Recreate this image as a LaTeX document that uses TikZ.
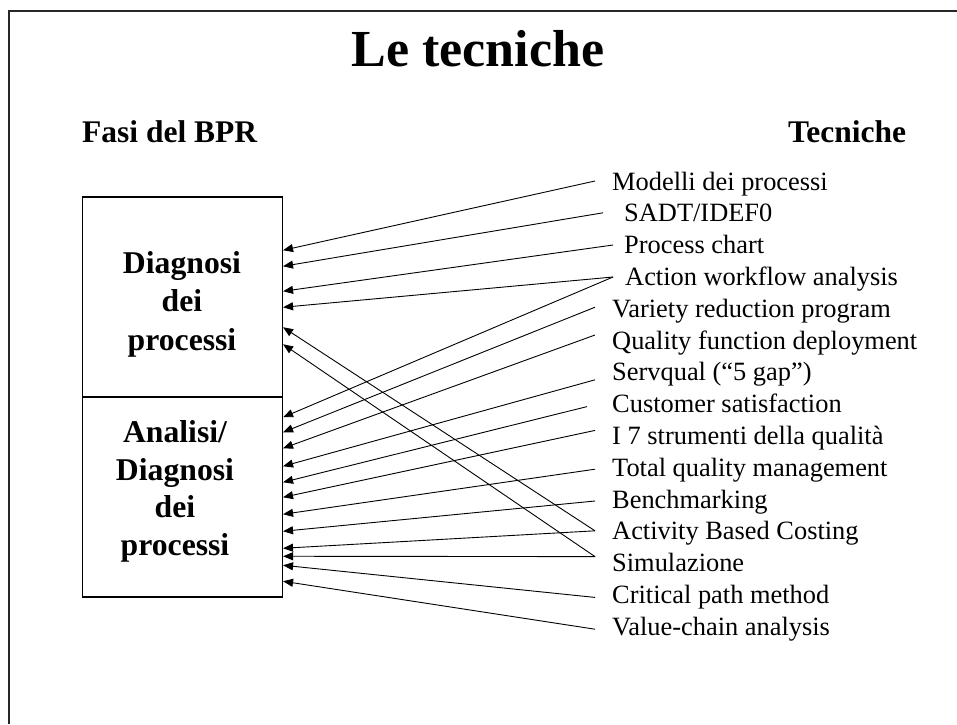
\documentclass[tikz,border=0pt]{standalone}
\usepackage{fontspec}
\setmainfont{Liberation Serif}
\usetikzlibrary{arrows.meta,calc}
\begin{document}
\begin{tikzpicture}[x=1pt,y=-1pt,
  lbl/.style={anchor=base west, inner sep=0pt, font=\fontsize{26.4}{30}\selectfont},
  boxtxt/.style={anchor=base, inner sep=0pt, font=\fontsize{31.7}{36}\selectfont\bfseries},
  hdr/.style={anchor=base west, inner sep=0pt, font=\fontsize{31.5}{36}\selectfont\bfseries},
  phase/.style={draw, line width=1.5pt, minimum width=200pt, minimum height=200pt, inner sep=0pt},
  arr/.style={-{Triangle[length=10pt,width=8pt]}, line width=0.9pt},
  frameline/.style={line width=2pt, draw=black!85}]
\useasboundingbox (0,0) rectangle (957,724);
% outer frame (only left and top visible)
\draw[frameline] (8.5,724) -- (8.5,11) -- (957,11);
% title and headers
\node[anchor=base, inner sep=0pt, font=\fontsize{52}{60}\selectfont\bfseries] (title) at (478,66) {Le tecniche};
\node[hdr] (hfasi) at (82,142) {Fasi del BPR};
\node[hdr] (htec) at (788,142) {Tecniche};
% phase boxes
\node[phase] (diag) at (182.3,297) {};
\node[phase] (anal) at (182.3,497) {};
\node[boxtxt] (d1) at (182,273) {Diagnosi};
\node[boxtxt] (d2) at (182,311.5) {dei};
\node[boxtxt] (d3) at (182,350) {processi};
\node[boxtxt] (a1) at (175,442) {Analisi/};
\node[boxtxt] (a2) at (175,480) {Diagnosi};
\node[boxtxt] (a3) at (175,517.5) {dei};
\node[boxtxt] (a4) at (175,555) {processi};
% technique labels
\node[lbl] (t1)  at (612,190)   {Modelli dei processi};
\node[lbl] (t2)  at (624,221.8) {SADT/IDEF0};
\node[lbl] (t3)  at (624,253.6) {Process chart};
\node[lbl] (t4)  at (625,285.4) {Action workflow analysis};
\node[lbl] (t5)  at (612,317.2) {Variety reduction program};
\node[lbl] (t6)  at (612,349)   {Quality function deployment};
\node[lbl] (t7)  at (612,380.8) {Servqual (“5 gap”)};
\node[lbl] (t8)  at (612,412.6) {Customer satisfaction};
\node[lbl] (t9)  at (612,444.4) {I 7 strumenti della qualità};
\node[lbl] (t10) at (612,476.2) {Total quality management};
\node[lbl] (t11) at (612,508)   {Benchmarking};
\node[lbl] (t12) at (612,539.8) {Activity Based Costing};
\node[lbl] (t13) at (612,571.6) {Simulazione};
\node[lbl] (t14) at (612,603.4) {Critical path method};
\node[lbl] (t15) at (612,635.2) {Value-chain analysis};
% start points of connectors
\coordinate (s1)  at ($(t1.base west)+(-17,-9)$);
\coordinate (s2)  at ($(t2.base west)+(-21,-9)$);
\coordinate (s3)  at ($(t3.base west)+(-11,-8.6)$);
\coordinate (s4)  at ($(t4.base west)+(-12,-8.4)$);
\coordinate (s5)  at ($(t5.base west)+(-17,-10)$);
\coordinate (s6)  at ($(t6.base west)+(-17,-14)$);
\coordinate (s7)  at ($(t7.base west)+(-17,-1)$);
\coordinate (s8)  at ($(t8.base west)+(-25,-6)$);
\coordinate (s9)  at ($(t9.base west)+(-17,-14)$);
\coordinate (s10) at ($(t10.base west)+(-17,-7)$);
\coordinate (s11) at ($(t11.base west)+(-17,-7)$);
\coordinate (s12) at ($(t12.base west)+(-17,-9)$);
\coordinate (s13) at ($(t13.base west)+(-17,-15)$);
\coordinate (s14) at ($(t14.base west)+(-17,-6)$);
\coordinate (s15) at ($(t15.base west)+(-17,-6)$);
% arrows into upper box
\draw[arr] (s1)  -- ($(diag.north east)+(0,54)$);
\draw[arr] (s2)  -- ($(diag.north east)+(0,70)$);
\draw[arr] (s3)  -- ($(diag.north east)+(0,95)$);
\draw[arr] (s4)  -- ($(diag.north east)+(0,111)$);
\draw[arr] (s12) -- ($(diag.north east)+(0,131)$);
\draw[arr] (s13) -- ($(diag.north east)+(0,148)$);
% arrows into lower box
\draw[arr] (s4)  -- ($(anal.north east)+(0,21)$);
\draw[arr] (s5)  -- ($(anal.north east)+(0,36)$);
\draw[arr] (s6)  -- ($(anal.north east)+(0,52)$);
\draw[arr] (s7)  -- ($(anal.north east)+(0,70)$);
\draw[arr] (s8)  -- ($(anal.north east)+(0,86)$);
\draw[arr] (s9)  -- ($(anal.north east)+(0,101)$);
\draw[arr] (s10) -- ($(anal.north east)+(0,118)$);
\draw[arr] (s11) -- ($(anal.north east)+(0,135)$);
\draw[arr] (s12) -- ($(anal.north east)+(0,152)$);
\draw[arr] (s13) -- ($(anal.north east)+(0,160)$);
\draw[arr] (s14) -- ($(anal.north east)+(0,169)$);
\draw[arr] (s15) -- ($(anal.north east)+(0,185)$);
\end{tikzpicture}
\end{document}
